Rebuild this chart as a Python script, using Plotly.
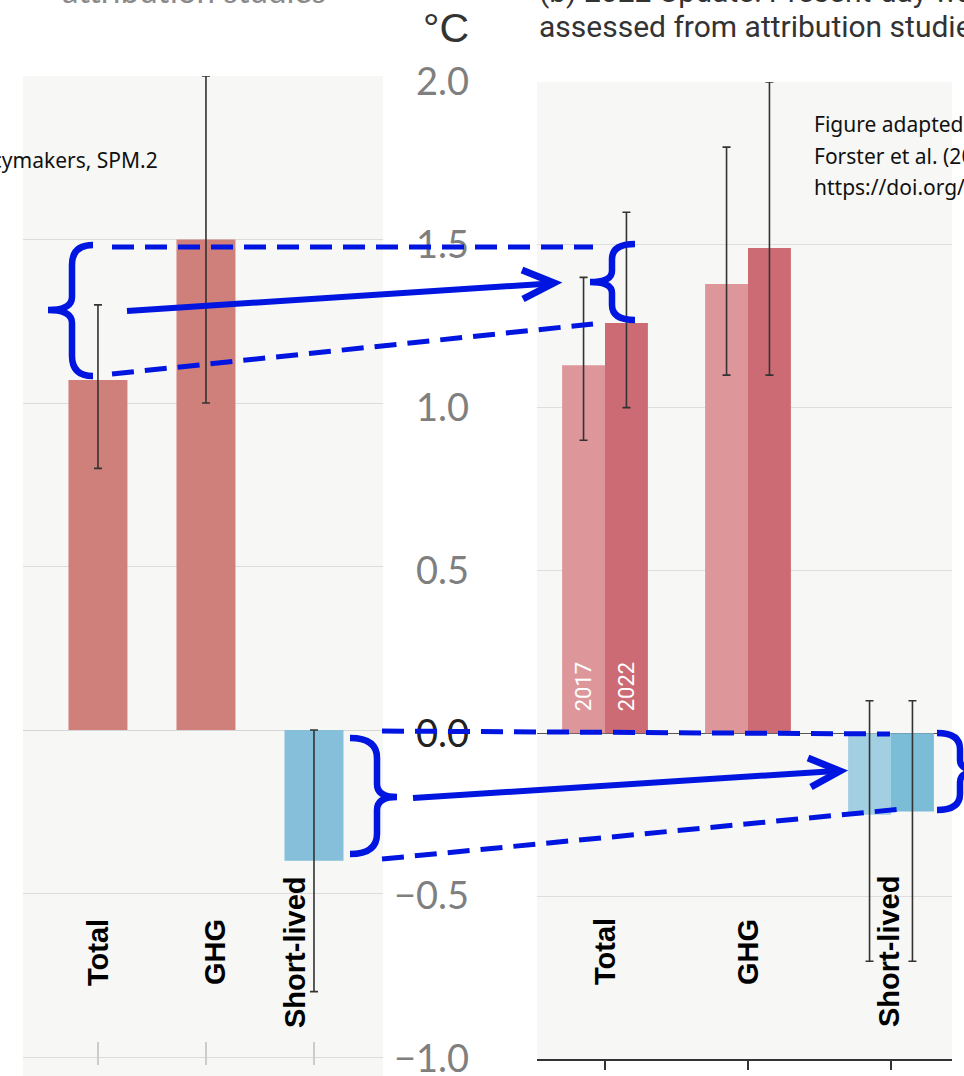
import plotly.graph_objects as go

W, H = 964, 1076

# ---- data -------------------------------------------------------------
categories = ["Total", "GHG", "Short-lived"]

# AR6 SPM.2 (b): contributions to warming, attribution studies
ar6_warming = [1.07, 1.50, -0.40]
ar6_low = [0.80, 1.00, -0.80]
ar6_high = [1.30, 2.00, 0.00]

# Forster et al. (2023) update
years = ["2017", "2022"]
upd_2017 = [1.13, 1.38, -0.25]
upd_2017_low = [0.90, 1.10, -0.70]
upd_2017_high = [1.40, 1.80, 0.10]
upd_2022 = [1.26, 1.49, -0.24]
upd_2022_low = [1.00, 1.10, -0.70]
upd_2022_high = [1.60, 2.00, 0.10]

tick_vals = [-1.0, -0.5, 0.0, 0.5, 1.0, 1.5, 2.0]
tick_text = ["−1.0", "−0.5", "<span style='color:#222'>0.0</span>",
             "0.5", "1.0", "1.5", "2.0"]

# ---- styling ----------------------------------------------------------
RED_AR6, BLUE_AR6 = "#d0807a", "#86bfd9"
RED_17, BLUE_17 = "#dd979b", "#a3cfe2"
RED_22, BLUE_22 = "#cd6b74", "#7bbdd7"
INK = "#0016e0"
SANS = "Liberation Sans, Arial, sans-serif"
# small horizontal nudges of the vertical category names (px)
LABEL_NUDGE = {"x": [0, 9, -19], "x2": [0, 0, -2]}


def colours(red, blue):
    return [blue if v < 0 else red for v in ar6_warming]


def err(vals, lo, hi):
    return dict(type="data", array=[h - v for v, h in zip(vals, hi)],
                arrayminus=[v - l for v, l in zip(vals, lo)],
                color="#333333", thickness=1.6, width=4)


fig = go.Figure()

fig.add_trace(go.Bar(
    x=categories, y=ar6_warming, width=0.546,
    marker=dict(color=colours(RED_AR6, BLUE_AR6), line=dict(width=0)),
    error_y=err(ar6_warming, ar6_low, ar6_high),
    xaxis="x", yaxis="y", name="AR6"))

fig.add_trace(go.Bar(
    x=categories, y=upd_2017, width=0.3, offset=-0.3,
    marker=dict(color=colours(RED_17, BLUE_17), line=dict(width=0)),
    error_y=err(upd_2017, upd_2017_low, upd_2017_high),
    xaxis="x2", yaxis="y2", name=years[0]))

fig.add_trace(go.Bar(
    x=categories, y=upd_2022, width=0.3, offset=0.0,
    marker=dict(color=colours(RED_22, BLUE_22), line=dict(width=0)),
    error_y=err(upd_2022, upd_2022_low, upd_2022_high),
    xaxis="x2", yaxis="y2", name=years[1]))


def px(x):
    return x / W


def py(y):
    return 1 - y / H


fig.update_layout(
    width=W, height=H, margin=dict(l=0, r=0, t=0, b=0, autoexpand=False),
    paper_bgcolor="white", plot_bgcolor="#f7f7f6",
    barmode="overlay", showlegend=False,
    xaxis=dict(domain=[px(23), px(383)], type="category",
               range=[-0.694, 2.639], anchor="free", position=py(1065),
               ticks="inside", ticklen=23, tickwidth=1.5, tickcolor="#cccccc",
               showticklabels=False, showgrid=False, zeroline=False,
               showline=False, automargin=False),
    yaxis=dict(domain=[0, py(76)], range=[-1.058, 2.0], tickvals=tick_vals,
               showticklabels=False, ticks="", gridcolor="#dcdcdc",
               gridwidth=1, zeroline=True, zerolinecolor="#d6d6d6",
               zerolinewidth=1, showline=False, automargin=False),
    xaxis2=dict(domain=[px(537), px(952)], type="category",
                range=[-0.4755, 2.4266], anchor="y2", showline=True,
                linecolor="#333333", linewidth=1.5, ticks="outside",
                ticklen=9, tickwidth=1.5, tickcolor="#333333",
                showticklabels=False, showgrid=False, zeroline=False,
                automargin=False),
    yaxis2=dict(domain=[py(1059), py(82)], range=[-1.0, 2.0], anchor="x2",
                side="left", tickvals=tick_vals, ticktext=tick_text,
                ticks="", ticklabelstandoff=67, automargin=False,
                ticklabeloverflow="allow",
                tickfont=dict(family="Lato, sans-serif", size=38,
                              color="#7f7f7f"),
                gridcolor="#dedede", gridwidth=1, zeroline=True,
                zerolinecolor="#555555", zerolinewidth=1.2, showline=False),
)

ann = []
# category names drawn vertically inside each panel
for ax in ("x", "x2"):
    for c, nudge in zip(categories, LABEL_NUDGE[ax]):
        ann.append(dict(x=c, xref=ax, xshift=nudge, y=py(952), yref="paper",
                        text=c, textangle=-90, showarrow=False,
                        xanchor="center", yanchor="middle",
                        font=dict(family=SANS, size=29, color="black",
                                  weight="bold")))
# year labels at the base of the first pair of bars
for yr, shift in zip(years, (-21.5, 21.5)):
    ann.append(dict(x=categories[0], xref="x2", xshift=shift, y=0,
                    yref="y2", yshift=20, text=yr, textangle=-90,
                    showarrow=False, xanchor="center", yanchor="bottom",
                    font=dict(family="Roboto, sans-serif", size=22,
                              color="white")))
# unit
ann.append(dict(x=px(471), y=py(28), xref="paper", yref="paper", text="°C",
                showarrow=False, xanchor="right", yanchor="middle",
                font=dict(family=SANS, size=41, color="#333333")))
# panel titles
ann.append(dict(x=px(537), y=py(27), xref="paper", yref="paper",
                text="assessed from attribution studies", showarrow=False,
                xanchor="left", yanchor="middle",
                font=dict(family="Roboto, sans-serif", size=30,
                          color="#333333")))
ann.append(dict(x=px(537), y=py(-9), xref="paper", yref="paper",
                text="(b) 2022 Update: Present-day warming", showarrow=False,
                xanchor="left", yanchor="middle",
                font=dict(family="Roboto, sans-serif", size=30,
                          color="#333333")))
ann.append(dict(x=px(60), y=py(-10), xref="paper", yref="paper",
                text="attribution studies", showarrow=False,
                xanchor="left", yanchor="middle",
                font=dict(family="Lato, sans-serif", size=33,
                          color="#8a8a8a")))
# source notes
ann.append(dict(x=px(160), y=py(160), xref="paper", yref="paper",
                text="Summary for Policymakers, SPM.2", showarrow=False,
                xanchor="right", yanchor="middle",
                font=dict(family="Noto Sans, sans-serif", size=21,
                          color="#111111")))
for i, line in enumerate(["Figure adapted from",
                          "Forster et al. (2023),",
                          "https://doi.org/10.5194/essd-15-2295-2023"]):
    ann.append(dict(x=px(812), y=py(124 + 31.5 * i), xref="paper",
                    yref="paper", text=line, showarrow=False,
                    xanchor="left", yanchor="middle",
                    font=dict(family="Noto Sans, sans-serif", size=21,
                              color="#111111")))
fig.update_layout(annotations=ann)


# ---- hand-drawn blue overlay ----------------------------------------------
def P(x, y):
    return f"{px(x):.5f},{py(y):.5f}"


def brace(x_tip, y_top, y_bot, x_pt, y_pt, x_sp, r_end=20, r_mid=13):
    return ("M" + P(x_tip, y_top)
            + " Q" + P(x_sp, y_top) + " " + P(x_sp, y_top + r_end)
            + " L" + P(x_sp, y_pt - r_mid)
            + " Q" + P(x_sp, y_pt) + " " + P(x_pt, y_pt)
            + " Q" + P(x_sp, y_pt) + " " + P(x_sp, y_pt + r_mid)
            + " L" + P(x_sp, y_bot - r_end)
            + " Q" + P(x_sp, y_bot) + " " + P(x_tip, y_bot))


def seg(x0, y0, x1, y1, width, dash="solid"):
    return dict(type="line", xref="paper", yref="paper",
                x0=px(x0), y0=py(y0), x1=px(x1), y1=py(y1), layer="above",
                line=dict(color=INK, width=width, dash=dash))


def path(d, width):
    return dict(type="path", xref="paper", yref="paper", path=d,
                layer="above", line=dict(color=INK, width=width))


DASH = "22px,11px"
shapes = [
    # upper group: Total / GHG range
    path(brace(93, 245, 376, 48, 310, 72), 6.5),
    seg(112, 247, 593, 247, 5, DASH),
    seg(112, 374, 593, 324, 5, DASH),
    seg(127, 311, 550, 283.5, 6),
    path("M" + P(522, 270) + " L" + P(554, 283) + " L" + P(523, 299), 7),
    path(brace(635, 244, 320, 590, 282, 612, 15, 11), 6.5),
    # lower group: short-lived
    path(brace(350, 738, 854, 397, 797, 377, 20, 13), 6.5),
    seg(382, 731, 890, 734, 5, DASH),
    seg(382, 859, 902, 809, 5, DASH),
    seg(413, 798, 836, 771, 6),
    path("M" + P(808, 758) + " L" + P(840, 771) + " L" + P(811, 787), 7),
    path(brace(937, 733, 810, 982, 771, 960, 16, 11), 6.5),
]
fig.update_layout(shapes=shapes)

fig.write_html("out.html")
